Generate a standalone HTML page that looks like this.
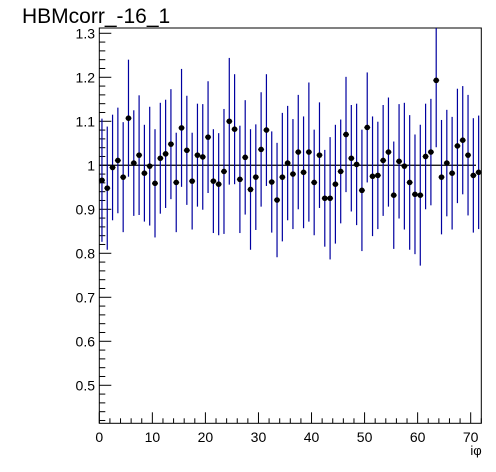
<!DOCTYPE html>
<html><head><meta charset="utf-8"><style>
html,body{margin:0;padding:0;background:#fff;}
svg{display:block;font-family:"Liberation Sans",Arial,sans-serif;}
</style></head><body>
<svg id="chart" width="496" height="472">
<rect width="496" height="472" fill="#fff"/>
<text x="22" y="23" font-size="21" fill="#000">HBMcorr_-16_1</text>
<g id="plot"></g>
</svg>
<script>
const values = [0.966,0.948,0.995,1.011,0.973,1.107,1.005,1.023,0.982,0.998,0.959,1.016,1.026,1.048,0.961,1.085,1.034,0.964,1.023,1.019,1.064,0.964,0.957,0.986,1.100,1.082,0.968,1.018,0.945,0.973,1.036,1.080,0.962,0.921,0.973,1.005,0.980,1.030,0.984,1.030,0.961,1.023,0.925,0.925,0.957,0.986,1.070,1.016,1.002,0.943,1.086,0.975,0.977,1.011,1.030,0.932,1.009,0.998,0.961,0.934,0.932,1.020,1.030,1.193,0.973,1.005,0.982,1.044,1.057,1.023,0.977,0.984];
const errors = [0.14,0.14,0.12,0.12,0.125,0.133,0.12,0.136,0.11,0.135,0.123,0.126,0.123,0.125,0.113,0.134,0.124,0.11,0.117,0.12,0.127,0.118,0.116,0.142,0.144,0.125,0.122,0.13,0.137,0.12,0.13,0.127,0.115,0.13,0.146,0.13,0.125,0.13,0.127,0.158,0.12,0.12,0.11,0.139,0.135,0.118,0.131,0.121,0.138,0.138,0.125,0.136,0.122,0.126,0.124,0.122,0.13,0.144,0.153,0.136,0.16,0.12,0.121,0.152,0.13,0.121,0.128,0.13,0.123,0.137,0.13,0.129];
const xTicks = [0,10,20,30,40,50,60,70];
const yTicks = [0.5,0.6,0.7,0.8,0.9,1,1.1,1.2,1.3];
const xMin=0,xMax=72,yMin=0.4136,yMax=1.312;
const L=99.3,R=481.3,T=28,B=423.3;
const X=v=>L+(v-xMin)/(xMax-xMin)*(R-L);
const Y=v=>B-(v-yMin)/(yMax-yMin)*(B-T);
const NS='http://www.w3.org/2000/svg';
const g=document.getElementById('plot');
function mk(tag,attrs,parent){const e=document.createElementNS(NS,tag);for(const k in attrs)e.setAttribute(k,attrs[k]);(parent||g).appendChild(e);return e;}
// frame
let fr=mk('rect',{x:L,y:T,width:R-L,height:B-T,fill:'none',stroke:'#000','stroke-width':1});


// y ticks
for(let v=0.42;v<=1.3001;v+=0.02){const y=Y(v);const major=Math.abs(v*10-Math.round(v*10))<1e-6;
 const t=mk('line',{x1:L,x2:L+(major?12:6),y1:y,y2:y,stroke:'#000','stroke-width':1});
 
 }
yTicks.forEach(v=>{const t=mk('text',{x:95,y:Y(v)+5,'font-size':14,'text-anchor':'end'});t.textContent=(v===1?'1':v.toFixed(1));
 
 });
// x ticks
for(let v=0;v<=72;v+=2){const x=X(v);const major=v%10===0;
 const t=mk('line',{x1:x,x2:x,y1:B,y2:B-(major?11:5),stroke:'#000','stroke-width':1});
 
 }
xTicks.forEach(v=>{const t=mk('text',{x:X(v),y:442,'font-size':14,'text-anchor':'middle'});t.textContent=v;
 
 });
const xt=mk('text',{x:476,y:455,'font-size':13,'text-anchor':'middle'});xt.textContent='iφ';


// reference line
const rl=mk('line',{x1:L,x2:476,y1:Y(1),y2:Y(1),stroke:'#000','stroke-width':1.2});


// data
values.forEach((v,i)=>{const x=X(i+0.5);
 const top=Math.max(Y(v+errors[i]),T),bot=Math.min(Y(v-errors[i]),B);
 const e=mk('line',{x1:x,x2:x,y1:top,y2:bot,stroke:'#0000a0','stroke-width':1.2});
 
 
 const h=mk('line',{x1:x-3,x2:x+3,y1:Y(v),y2:Y(v),stroke:'#000','stroke-width':1});
 
 
 const c=mk('circle',{cx:x,cy:Y(v),r:2.8,fill:'#000'});
 
 });
</script>
</body></html>
